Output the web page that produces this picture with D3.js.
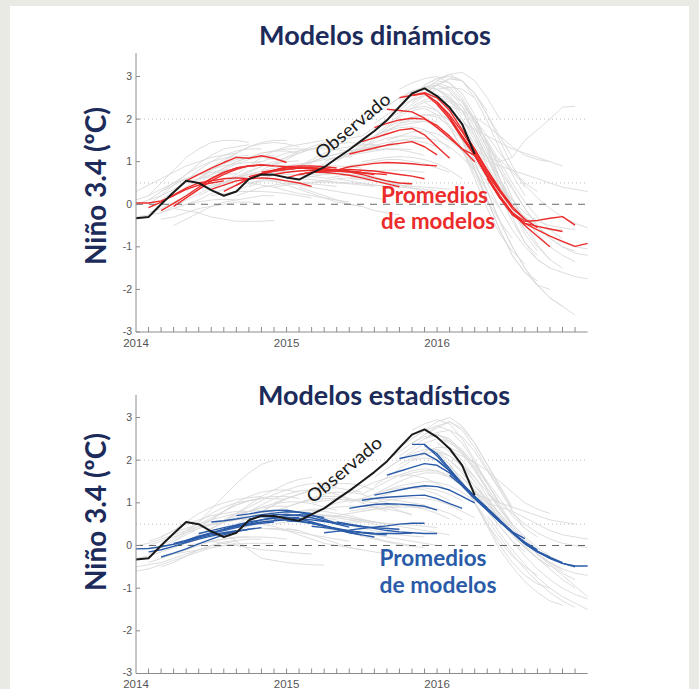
<!DOCTYPE html>
<html>
<head>
<meta charset="utf-8">
<script src="https://cdn.jsdelivr.net/npm/d3@7"></script>
<style>
  html, body { margin: 0; padding: 0; background: #e9eae4; }
  svg { display: block; }
</style>
</head>
<body>
<svg id="chart" width="699" height="689"></svg>
<script>
// Months are counted from January 2014 (0) to January 2017 (36).
const yearTicks = [0, 12, 24];
const yearLabels = ["2014", "2015", "2016"];
const valueTicks = [-3, -2, -1, 0, 1, 2, 3];
const referenceLevels = [2, 0.5];

// Observed Niño 3.4 anomaly (ºC), one value per month from Jan 2014.
const observed = [-0.33, -0.30, 0.0, 0.28, 0.55, 0.50, 0.33, 0.20, 0.30, 0.59,
  0.70, 0.69, 0.63, 0.58, 0.73, 0.87, 1.08, 1.28, 1.50, 1.72,
  1.97, 2.29, 2.60, 2.72, 2.54, 2.27, 1.88, 1.18];

// Dynamical models: individual forecasts [first month, values...]
const dynMembers = [
  [0, [0.1, 0.2, 0.35, 0.5, 0.6, 0.7, 0.75, 0.8, 0.8]],
  [0, [-0.3, -0.25, -0.2, -0.1, 0.0, 0.05, 0.1, 0.12, 0.1]],
  [0, [0.3, 0.45, 0.6, 0.75, 0.9, 1.0, 1.1, 1.15, 1.2]],
  [0, [0.0, 0.1, 0.2, 0.35, 0.5, 0.6, 0.65, 0.7, 0.72]],
  [1, [-0.2, -0.1, 0.05, 0.2, 0.35, 0.45, 0.5, 0.55, 0.55]],
  [1, [0.0, 0.2, 0.45, 0.7, 0.95, 1.15, 1.3, 1.35, 1.4]],
  [1, [0.1, 0.3, 0.5, 0.7, 0.88, 1.0, 1.08, 1.12, 1.15]],
  [1, [0.2, 0.5, 0.8, 1.1, 1.3, 1.45, 1.5, 1.5, 1.45]],
  [2, [-0.35, -0.3, -0.2, -0.1, -0.05, 0.0, 0.05, 0.05, 0.0]],
  [2, [0.1, 0.3, 0.55, 0.8, 1.0, 1.15, 1.25, 1.3, 1.3]],
  [2, [-0.2, -0.05, 0.1, 0.25, 0.4, 0.52, 0.6, 0.65, 0.68]],
  [2, [0.3, 0.45, 0.6, 0.72, 0.82, 0.9, 0.95, 0.98, 1.0]],
  [3, [-0.5, -0.35, -0.2, -0.05, 0.05, 0.1, 0.15, 0.2, 0.2]],
  [3, [0.2, 0.4, 0.6, 0.8, 0.95, 1.05, 1.1, 1.1, 1.05]],
  [3, [0.0, 0.2, 0.4, 0.6, 0.8, 0.95, 1.05, 1.12, 1.15]],
  [3, [-0.1, -0.15, -0.2, -0.3, -0.35, -0.4, -0.4, -0.4, -0.38]],
  [4, [0.3, 0.55, 0.8, 1.0, 1.2, 1.35, 1.45, 1.5, 1.5]],
  [4, [0.0, 0.1, 0.25, 0.35, 0.45, 0.5, 0.55, 0.55, 0.55]],
  [4, [0.5, 0.6, 0.7, 0.78, 0.85, 0.9, 0.92, 0.92, 0.9]],
  [5, [0.5, 0.7, 0.85, 1.0, 1.1, 1.2, 1.25, 1.25, 1.2]],
  [5, [0.2, 0.35, 0.5, 0.65, 0.78, 0.88, 0.95, 1.0, 1.02]],
  [5, [0.6, 0.85, 1.05, 1.2, 1.35, 1.42, 1.45, 1.42, 1.35]],
  [6, [0.4, 0.5, 0.6, 0.7, 0.78, 0.85, 0.9, 0.95, 0.95]],
  [6, [0.2, 0.25, 0.3, 0.3, 0.3, 0.28, 0.25, 0.2, 0.15]],
  [6, [0.7, 0.85, 1.0, 1.1, 1.2, 1.25, 1.3, 1.3, 1.28]],
  [7, [0.5, 0.7, 0.9, 1.1, 1.25, 1.35, 1.4, 1.45, 1.5]],
  [7, [0.2, 0.3, 0.45, 0.6, 0.7, 0.8, 0.85, 0.88, 0.9]],
  [7, [0.6, 0.65, 0.7, 0.72, 0.72, 0.7, 0.68, 0.65, 0.62]],
  [8, [0.2, 0.3, 0.4, 0.45, 0.5, 0.5, 0.48, 0.45, 0.42]],
  [8, [0.6, 0.75, 0.9, 1.0, 1.1, 1.2, 1.3, 1.35, 1.4]],
  [9, [0.5, 0.45, 0.4, 0.32, 0.25, 0.2, 0.15, 0.1, 0.05]],
  [9, [0.9, 1.0, 1.1, 1.2, 1.25, 1.3, 1.3, 1.28, 1.25]],
  [9, [0.4, 0.55, 0.7, 0.8, 0.9, 0.98, 1.05, 1.1, 1.12]],
  [10, [0.8, 0.95, 1.1, 1.25, 1.35, 1.45, 1.5, 1.55, 1.6]],
  [10, [0.6, 0.55, 0.45, 0.35, 0.25, 0.15, 0.05, 0.0, -0.05]],
  [10, [0.7, 0.75, 0.8, 0.85, 0.88, 0.9, 0.9, 0.88, 0.85]],
  [11, [0.7, 0.8, 0.9, 1.0, 1.1, 1.18, 1.25, 1.3, 1.3]],
  [11, [0.4, 0.45, 0.5, 0.52, 0.52, 0.5, 0.48, 0.45, 0.42]],
  [11, [0.9, 1.05, 1.2, 1.3, 1.38, 1.42, 1.45, 1.42, 1.38]],
  [12, [0.5, 0.45, 0.4, 0.35, 0.3, 0.25, 0.2, 0.15, 0.1]],
  [12, [0.7, 0.9, 1.05, 1.2, 1.3, 1.35, 1.4, 1.4, 1.35]],
  [12, [0.6, 0.6, 0.58, 0.55, 0.52, 0.5, 0.48, 0.45, 0.42]],
  [13, [0.6, 0.65, 0.7, 0.72, 0.7, 0.65, 0.6, 0.55, 0.5]],
  [13, [0.4, 0.3, 0.2, 0.1, 0.0, -0.05, -0.15, -0.2, -0.25]],
  [13, [0.9, 1.0, 1.1, 1.18, 1.25, 1.3, 1.35, 1.38, 1.4]],
  [14, [0.8, 0.95, 1.05, 1.15, 1.2, 1.25, 1.3, 1.3, 1.28]],
  [14, [0.5, 0.55, 0.6, 0.62, 0.62, 0.6, 0.55, 0.5, 0.45]],
  [14, [0.7, 0.72, 0.72, 0.7, 0.66, 0.6, 0.52, 0.45, 0.38]],
  [15, [0.7, 0.75, 0.75, 0.72, 0.65, 0.55, 0.45, 0.38, 0.3]],
  [15, [0.9, 1.05, 1.2, 1.35, 1.45, 1.55, 1.6, 1.6, 1.55]],
  [15, [0.6, 0.65, 0.7, 0.75, 0.78, 0.8, 0.8, 0.78, 0.75]],
  [15, [1.0, 1.1, 1.2, 1.25, 1.28, 1.3, 1.28, 1.22, 1.15]],
  [16, [0.6, 0.55, 0.5, 0.45, 0.42, 0.4, 0.38, 0.35, 0.32]],
  [16, [1.0, 1.2, 1.4, 1.6, 1.75, 1.85, 1.9, 1.95, 1.95]],
  [16, [1.1, 1.2, 1.3, 1.38, 1.45, 1.5, 1.5, 1.45, 1.35]],
  [17, [1.1, 1.3, 1.5, 1.7, 1.9, 2.0, 2.1, 2.1, 2.0]],
  [17, [0.9, 0.95, 1.0, 1.05, 1.05, 1.0, 0.95, 0.85, 0.75]],
  [17, [1.3, 1.45, 1.6, 1.72, 1.8, 1.82, 1.75, 1.55, 1.3]],
  [17, [0.6, 0.58, 0.55, 0.5, 0.45, 0.42, 0.4, 0.38, 0.35]],
  [18, [1.3, 1.55, 1.8, 2.05, 2.25, 2.4, 2.45, 2.4, 2.2]],
  [18, [1.0, 1.05, 1.1, 1.12, 1.1, 1.05, 0.95, 0.8, 0.6]],
  [18, [1.6, 1.8, 2.0, 2.15, 2.25, 2.3, 2.2, 1.95, 1.6]],
  [18, [1.9, 2.1, 2.3, 2.5, 2.65, 2.75, 2.7, 2.5, 2.1]],
  [19, [1.6, 1.85, 2.1, 2.35, 2.55, 2.7, 2.75, 2.7, 2.5]],
  [19, [1.3, 1.4, 1.5, 1.55, 1.55, 1.5, 1.35, 1.1, 0.8]],
  [19, [1.9, 2.1, 2.3, 2.45, 2.55, 2.5, 2.3, 1.9, 1.4]],
  [20, [2.0, 2.3, 2.55, 2.8, 2.95, 3.0, 2.9, 2.6, 2.2]],
  [20, [1.5, 1.6, 1.7, 1.72, 1.65, 1.5, 1.25, 0.9, 0.5]],
  [20, [2.3, 2.5, 2.65, 2.75, 2.7, 2.45, 2.0, 1.5, 1.0]],
  [20, [1.8, 1.95, 2.05, 2.1, 2.05, 1.85, 1.5, 1.05, 0.6]],
  [21, [2.2, 2.45, 2.7, 2.9, 3.05, 3.1, 2.9, 2.5, 2.0]],
  [21, [1.9, 1.95, 1.95, 1.85, 1.6, 1.25, 0.8, 0.3, -0.1]],
  [21, [2.4, 2.6, 2.75, 2.8, 2.65, 2.3, 1.8, 1.2, 0.6]],
  [21, [2.7, 2.85, 2.95, 3.0, 2.85, 2.5, 2.0, 1.45, 0.9]],
  [22, [2.4, 2.6, 2.8, 2.95, 2.9, 2.6, 2.1, 1.6, 1.1]],
  [22, [2.2, 2.25, 2.1, 1.8, 1.3, 0.7, 0.1, -0.4, -0.8]],
  [22, [2.6, 2.75, 2.85, 2.75, 2.45, 1.95, 1.3, 0.6, 0.0]],
  [22, [2.3, 2.45, 2.55, 2.5, 2.2, 1.7, 1.1, 0.5, 0.0]],
  [23, [2.6, 2.8, 2.95, 2.9, 2.6, 2.1, 1.5, 0.9, 0.4]],
  [23, [2.4, 2.2, 1.85, 1.3, 0.6, -0.1, -0.7, -1.1, -1.4]],
  [23, [2.7, 2.8, 2.7, 2.4, 1.9, 1.3, 0.6, -0.1, -0.6]],
  [23, [2.8, 2.95, 3.05, 2.9, 2.5, 1.95, 1.3, 0.7, 0.2]],
  [24, [2.5, 2.45, 2.3, 2.0, 1.6, 1.2, 0.8, 0.5, 0.3]],
  [24, [2.3, 2.0, 1.5, 0.8, 0.1, -0.6, -1.2, -1.6, -1.8]],
  [24, [2.7, 2.55, 2.2, 1.6, 0.9, 0.2, -0.4, -0.9, -1.2]],
  [24, [2.9, 2.85, 2.6, 2.1, 1.4, 0.6, -0.1, -0.7, -1.1]],
  [25, [2.3, 2.2, 2.05, 1.85, 1.6, 1.35, 1.15, 1.05, 1.0]],
  [25, [2.0, 1.5, 0.85, 0.1, -0.6, -1.2, -1.6, -1.9, -2.0]],
  [25, [2.5, 2.2, 1.7, 1.1, 0.4, -0.3, -0.9, -1.3, -1.5]],
  [25, [2.6, 2.4, 2.0, 1.45, 0.8, 0.15, -0.45, -0.95, -1.3]],
  [26, [1.8, 1.4, 0.9, 0.4, 0.0, -0.3, -0.5, -0.6, -0.6]],
  [26, [1.6, 1.0, 0.3, -0.4, -1.0, -1.5, -1.9, -2.2, -2.4]],
  [26, [2.0, 1.6, 1.1, 0.5, -0.1, -0.6, -1.0, -1.3, -1.5]],
  [26, [1.9, 1.75, 1.6, 1.45, 1.3, 1.2, 1.1, 1.0, 0.9]],
  [26, [2.2, 1.9, 1.5, 1.0, 0.5, 0.05, -0.3, -0.6, -0.8]],
  [27, [1.3, 1.1, 1.0, 1.1, 1.5, 1.75, 2.0, 2.28, 2.3]],
  [27, [1.0, 0.3, -0.4, -1.0, -1.5, -1.9, -2.2, -2.4, -2.6]],
  [27, [1.2, 0.8, 0.4, 0.1, -0.2, -0.4, -0.5, -0.55, -0.6]],
  [27, [1.5, 1.1, 0.6, 0.1, -0.35, -0.7, -1.0, -1.2, -1.35]],
  [27, [1.8, 1.4, 0.9, 0.4, -0.1, -0.5, -0.8, -1.0, -1.1]],
  [28, [0.8, 0.4, 0.0, -0.3, -0.55, -0.75, -0.9, -1.0, -1.05]],
  [28, [1.0, 0.9, 0.8, 0.7, 0.6, 0.5, 0.4, 0.35, 0.3]],
  [28, [0.5, -0.1, -0.6, -1.0, -1.3, -1.5, -1.6, -1.7, -1.75]],
  [28, [1.2, 0.8, 0.35, -0.1, -0.5, -0.8, -1.0, -1.15, -1.2]],
  [28, [1.3, 1.05, 0.75, 0.45, 0.15, -0.1, -0.3, -0.45, -0.55]]
];

// Dynamical models: multi-model average, one line per issue month
const dynMeans = [
  [0, [0.03, 0.03, 0.08, 0.2, 0.35, 0.45, 0.5, 0.55]],
  [1, [-0.08, 0.05, 0.22, 0.38, 0.5, 0.55, 0.6, 0.62, 0.6]],
  [2, [-0.15, 0.02, 0.2, 0.4, 0.6, 0.75, 0.85, 0.9, 0.92]],
  [3, [-0.05, 0.15, 0.35, 0.55, 0.7, 0.82, 0.9, 0.92, 0.9]],
  [4, [0.55, 0.7, 0.85, 0.98, 1.1, 1.08, 1.14, 1.08, 0.98]],
  [5, [0.45, 0.6, 0.75, 0.85, 0.9, 0.92, 0.9, 0.88, 0.85]],
  [6, [0.35, 0.45, 0.55, 0.6, 0.62, 0.6, 0.55, 0.5, 0.42]],
  [7, [0.3, 0.45, 0.6, 0.7, 0.78, 0.82, 0.85, 0.83, 0.8]],
  [8, [0.45, 0.6, 0.72, 0.8, 0.88, 0.9, 0.9, 0.88, 0.85]],
  [9, [0.65, 0.72, 0.78, 0.82, 0.85, 0.85, 0.83, 0.8, 0.78]],
  [10, [0.75, 0.8, 0.85, 0.87, 0.86, 0.84, 0.8, 0.78, 0.75]],
  [11, [0.7, 0.75, 0.78, 0.8, 0.8, 0.78, 0.76, 0.74, 0.7]],
  [12, [0.62, 0.7, 0.75, 0.78, 0.78, 0.76, 0.74, 0.72, 0.7]],
  [13, [0.7, 0.75, 0.75, 0.72, 0.68, 0.62, 0.55, 0.48, 0.41]],
  [14, [0.8, 0.82, 0.8, 0.76, 0.7, 0.62, 0.55, 0.5, 0.48]],
  [15, [0.78, 0.8, 0.82, 0.8, 0.78, 0.74, 0.7, 0.66, 0.6]],
  [16, [0.8, 0.88, 0.92, 0.96, 0.98, 0.97, 0.95, 0.92, 0.9]],
  [17, [1.18, 1.25, 1.32, 1.39, 1.43, 1.47, 1.35, 1.16]],
  [18, [1.47, 1.56, 1.65, 1.74, 1.78, 1.63, 1.35, 1.08]],
  [19, [1.8, 1.9, 1.98, 2.02, 2.0, 1.85, 1.6, 1.3, 1.0]],
  [20, [2.23, 2.2, 2.17, 2.02, 1.8, 1.55, 1.3, 1.15]],
  [21, [2.5, 2.56, 2.62, 2.5, 2.2, 1.75, 1.3, 0.8, 0.35]],
  [22, [2.55, 2.6, 2.35, 2.0, 1.55, 1.15, 0.7, 0.3, -0.05]],
  [23, [2.6, 2.4, 2.05, 1.6, 1.2, 0.75, 0.3, -0.1, -0.35]],
  [24, [2.4, 2.1, 1.7, 1.25, 0.8, 0.35, -0.05, -0.35, -0.55]],
  [25, [2.0, 1.6, 1.15, 0.65, 0.2, -0.2, -0.5, -0.75, -1.0]],
  [26, [1.6, 1.15, 0.65, 0.15, -0.25, -0.45, -0.52, -0.58, -0.64]],
  [27, [1.15, 0.65, 0.15, -0.2, -0.4, -0.38, -0.33, -0.29, -0.49]],
  [28, [0.6, 0.15, -0.2, -0.45, -0.6, -0.75, -0.87, -0.99, -0.92]]
];

// Statistical models: individual forecasts [first month, values...]
const statMembers = [
  [0, [-0.3, -0.25, -0.15, -0.05, 0.05, 0.15, 0.25, 0.3, 0.35]],
  [0, [0.0, 0.05, 0.15, 0.25, 0.35, 0.45, 0.5, 0.55, 0.6]],
  [0, [-0.5, -0.45, -0.4, -0.3, -0.2, -0.1, 0.0, 0.05, 0.1]],
  [0, [-0.6, -0.55, -0.45, -0.35, -0.25, -0.15, -0.05, 0.0, 0.05]],
  [1, [-0.4, -0.3, -0.2, -0.1, 0.0, 0.1, 0.15, 0.2, 0.2]],
  [1, [0.1, 0.2, 0.35, 0.5, 0.6, 0.7, 0.75, 0.8, 0.8]],
  [1, [-0.2, -0.05, 0.1, 0.25, 0.4, 0.5, 0.58, 0.62, 0.65]],
  [1, [0.0, 0.1, 0.2, 0.3, 0.4, 0.48, 0.55, 0.6, 0.62]],
  [2, [-0.5, -0.4, -0.25, -0.1, 0.0, 0.08, 0.12, 0.15, 0.15]],
  [2, [0.0, 0.15, 0.35, 0.55, 0.75, 0.9, 1.0, 1.05, 1.1]],
  [2, [0.2, 0.35, 0.55, 0.75, 0.9, 1.0, 1.08, 1.12, 1.15]],
  [3, [0.0, 0.1, 0.25, 0.4, 0.55, 0.65, 0.72, 0.78, 0.8]],
  [3, [-0.2, -0.15, -0.1, -0.05, 0.0, 0.03, 0.05, 0.05, 0.05]],
  [3, [0.1, 0.3, 0.55, 0.85, 1.15, 1.45, 1.7, 1.9, 2.0]],
  [3, [0.3, 0.4, 0.5, 0.6, 0.68, 0.75, 0.8, 0.82, 0.82]],
  [4, [0.3, 0.45, 0.6, 0.8, 0.95, 1.05, 1.1, 1.1, 1.08]],
  [4, [0.0, 0.05, 0.1, 0.15, 0.18, 0.2, 0.2, 0.18, 0.15]],
  [4, [0.1, 0.25, 0.4, 0.55, 0.7, 0.8, 0.88, 0.92, 0.92]],
  [5, [0.4, 0.6, 0.8, 1.0, 1.15, 1.25, 1.3, 1.3, 1.25]],
  [5, [0.2, 0.25, 0.3, 0.35, 0.38, 0.4, 0.4, 0.38, 0.35]],
  [5, [0.5, 0.65, 0.8, 0.95, 1.05, 1.12, 1.15, 1.15, 1.1]],
  [6, [0.1, 0.05, 0.0, -0.05, -0.1, -0.12, -0.15, -0.18, -0.2]],
  [6, [0.3, 0.38, 0.45, 0.52, 0.58, 0.62, 0.65, 0.65, 0.62]],
  [6, [0.4, 0.55, 0.75, 0.95, 1.15, 1.3, 1.45, 1.55, 1.6]],
  [7, [0.3, 0.35, 0.45, 0.55, 0.65, 0.75, 0.8, 0.85, 0.85]],
  [7, [0.3, 0.1, -0.1, -0.3, -0.35, -0.4, -0.43, -0.45, -0.46]],
  [7, [0.6, 0.75, 0.9, 1.05, 1.2, 1.3, 1.4, 1.45, 1.45]],
  [8, [0.5, 0.65, 0.8, 0.95, 1.1, 1.2, 1.3, 1.35, 1.4]],
  [8, [0.4, 0.5, 0.6, 0.68, 0.72, 0.72, 0.7, 0.65, 0.6]],
  [8, [0.7, 0.8, 0.9, 0.98, 1.02, 1.02, 0.98, 0.9, 0.82]],
  [9, [0.6, 0.7, 0.8, 0.9, 1.0, 1.05, 1.1, 1.1, 1.05]],
  [9, [0.4, 0.4, 0.38, 0.35, 0.3, 0.25, 0.2, 0.15, 0.1]],
  [9, [0.8, 0.95, 1.1, 1.2, 1.28, 1.3, 1.28, 1.2, 1.1]],
  [10, [0.8, 0.95, 1.1, 1.2, 1.3, 1.35, 1.35, 1.3, 1.25]],
  [10, [0.5, 0.45, 0.35, 0.25, 0.15, 0.05, 0.0, -0.05, -0.1]],
  [10, [0.6, 0.65, 0.7, 0.72, 0.72, 0.7, 0.65, 0.6, 0.55]],
  [11, [0.7, 0.75, 0.8, 0.82, 0.8, 0.75, 0.7, 0.62, 0.55]],
  [11, [1.0, 1.1, 1.2, 1.3, 1.4, 1.45, 1.45, 1.4, 1.3]],
  [11, [0.5, 0.55, 0.58, 0.6, 0.58, 0.55, 0.5, 0.45, 0.4]],
  [12, [0.9, 1.0, 1.1, 1.15, 1.15, 1.1, 1.0, 0.9, 0.8]],
  [12, [0.4, 0.35, 0.25, 0.15, 0.05, -0.05, -0.1, -0.15, -0.2]],
  [12, [0.6, 0.65, 0.68, 0.7, 0.68, 0.65, 0.6, 0.55, 0.5]],
  [13, [0.7, 0.72, 0.72, 0.7, 0.65, 0.58, 0.5, 0.42, 0.35]],
  [13, [1.0, 1.1, 1.2, 1.25, 1.25, 1.2, 1.1, 1.0, 0.9]],
  [14, [0.5, 0.45, 0.4, 0.32, 0.25, 0.18, 0.1, 0.05, 0.0]],
  [14, [0.8, 0.85, 0.9, 0.92, 0.92, 0.9, 0.85, 0.8, 0.72]],
  [14, [1.0, 1.05, 1.08, 1.08, 1.05, 1.0, 0.92, 0.82, 0.72]],
  [15, [0.6, 0.55, 0.48, 0.4, 0.35, 0.3, 0.25, 0.22, 0.2]],
  [15, [0.9, 1.0, 1.05, 1.1, 1.1, 1.08, 1.05, 1.0, 0.95]],
  [15, [0.4, 0.35, 0.3, 0.22, 0.15, 0.08, 0.02, -0.02, -0.05]],
  [16, [0.7, 0.75, 0.8, 0.85, 0.88, 0.9, 0.9, 0.88, 0.85]],
  [16, [0.4, 0.35, 0.3, 0.25, 0.2, 0.15, 0.1, 0.05, 0.0]],
  [16, [0.55, 0.55, 0.55, 0.55, 0.52, 0.5, 0.48, 0.45, 0.42]],
  [17, [1.0, 1.1, 1.2, 1.3, 1.35, 1.35, 1.3, 1.2, 1.05]],
  [17, [0.6, 0.6, 0.55, 0.5, 0.45, 0.4, 0.35, 0.3, 0.25]],
  [17, [0.8, 0.85, 0.9, 0.95, 0.95, 0.92, 0.85, 0.75, 0.62]],
  [17, [1.2, 1.35, 1.48, 1.58, 1.65, 1.65, 1.58, 1.45, 1.28]],
  [18, [1.2, 1.35, 1.5, 1.65, 1.75, 1.8, 1.75, 1.6, 1.4]],
  [18, [0.8, 0.85, 0.9, 0.95, 0.95, 0.92, 0.85, 0.75, 0.6]],
  [18, [1.0, 1.1, 1.2, 1.3, 1.35, 1.35, 1.3, 1.2, 1.05]],
  [19, [1.4, 1.6, 1.8, 2.0, 2.15, 2.2, 2.1, 1.9, 1.6]],
  [19, [1.0, 1.05, 1.1, 1.12, 1.1, 1.05, 0.95, 0.8, 0.65]],
  [19, [1.2, 1.35, 1.5, 1.62, 1.7, 1.7, 1.6, 1.4, 1.15]],
  [19, [1.6, 1.8, 2.0, 2.15, 2.25, 2.25, 2.1, 1.85, 1.5]],
  [20, [1.8, 2.0, 2.2, 2.4, 2.5, 2.45, 2.25, 1.9, 1.5]],
  [20, [1.3, 1.4, 1.45, 1.5, 1.48, 1.4, 1.25, 1.05, 0.85]],
  [20, [2.0, 2.2, 2.4, 2.55, 2.6, 2.5, 2.2, 1.8, 1.3]],
  [21, [2.1, 2.3, 2.5, 2.65, 2.7, 2.55, 2.2, 1.75, 1.3]],
  [21, [1.6, 1.7, 1.75, 1.75, 1.65, 1.45, 1.2, 0.9, 0.6]],
  [21, [2.3, 2.5, 2.7, 2.8, 2.7, 2.4, 1.95, 1.45, 1.0]],
  [21, [1.9, 2.05, 2.2, 2.3, 2.3, 2.15, 1.85, 1.45, 1.0]],
  [22, [2.4, 2.6, 2.8, 2.9, 2.75, 2.4, 1.9, 1.4, 0.9]],
  [22, [2.0, 2.05, 2.0, 1.85, 1.6, 1.25, 0.9, 0.55, 0.25]],
  [22, [2.5, 2.7, 2.9, 3.0, 2.8, 2.4, 1.9, 1.35, 0.85]],
  [22, [2.7, 2.85, 2.95, 2.85, 2.5, 2.0, 1.45, 0.95, 0.5]],
  [23, [2.6, 2.75, 2.9, 2.7, 2.3, 1.8, 1.3, 0.8, 0.4]],
  [23, [2.3, 2.2, 2.0, 1.7, 1.3, 0.85, 0.45, 0.1, -0.15]],
  [23, [2.5, 2.6, 2.5, 2.2, 1.8, 1.35, 0.9, 0.5, 0.2]],
  [24, [2.5, 2.4, 2.2, 1.9, 1.5, 1.1, 0.7, 0.4, 0.2]],
  [24, [2.2, 1.9, 1.5, 1.0, 0.5, 0.1, -0.25, -0.5, -0.7]],
  [24, [2.4, 2.2, 1.9, 1.5, 1.05, 0.6, 0.25, -0.05, -0.3]],
  [24, [2.6, 2.45, 2.15, 1.75, 1.3, 0.85, 0.45, 0.15, -0.1]],
  [25, [2.2, 2.1, 1.95, 1.75, 1.5, 1.25, 1.0, 0.85, 0.75]],
  [25, [1.9, 1.5, 1.0, 0.5, 0.0, -0.4, -0.7, -0.9, -1.0]],
  [25, [2.0, 1.75, 1.4, 1.0, 0.6, 0.25, -0.05, -0.3, -0.5]],
  [25, [2.3, 2.0, 1.6, 1.15, 0.7, 0.3, -0.05, -0.3, -0.5]],
  [26, [1.7, 1.4, 1.05, 0.7, 0.35, 0.05, -0.2, -0.4, -0.55]],
  [26, [1.5, 1.0, 0.45, -0.1, -0.5, -0.85, -1.1, -1.3, -1.4]],
  [26, [1.6, 1.3, 0.95, 0.6, 0.3, 0.05, -0.2, -0.4, -0.6]],
  [26, [1.9, 1.6, 1.25, 0.85, 0.5, 0.2, -0.05, -0.25, -0.4]],
  [27, [1.2, 1.1, 1.0, 0.9, 0.8, 0.7, 0.6, 0.55, 0.5]],
  [27, [1.0, 0.6, 0.2, -0.2, -0.55, -0.85, -1.1, -1.3, -1.45]],
  [27, [1.3, 1.0, 0.65, 0.3, 0.0, -0.3, -0.55, -0.8, -1.0]],
  [27, [1.4, 1.1, 0.75, 0.4, 0.1, -0.2, -0.45, -0.65, -0.8]],
  [28, [0.9, 0.6, 0.3, 0.05, -0.2, -0.4, -0.55, -0.65, -0.7]],
  [28, [0.7, 0.3, -0.1, -0.45, -0.75, -1.0, -1.2, -1.35, -1.5]],
  [28, [1.0, 0.9, 0.8, 0.65, 0.5, 0.35, 0.25, 0.2, 0.15]],
  [28, [1.1, 0.75, 0.4, 0.1, -0.2, -0.45, -0.7, -0.95, -1.2]],
  [28, [0.8, 0.45, 0.1, -0.25, -0.55, -0.8, -1.0, -1.15, -1.25]],
  [28, [1.2, 1.0, 0.75, 0.5, 0.3, 0.15, 0.05, 0.0, -0.05]]
];

// Statistical models: multi-model average, one line per issue month
const statMeans = [
  [0, [-0.08, -0.07, -0.03, 0.03, 0.1, 0.18, 0.25, 0.3, 0.35]],
  [1, [-0.15, -0.1, -0.02, 0.07, 0.15, 0.22, 0.28, 0.33, 0.38]],
  [2, [-0.27, -0.18, -0.08, 0.04, 0.15, 0.25, 0.33, 0.38, 0.42]],
  [3, [0.05, 0.12, 0.2, 0.28, 0.35, 0.42, 0.48, 0.52, 0.55]],
  [4, [0.12, 0.22, 0.3, 0.38, 0.45, 0.5, 0.55, 0.58, 0.6]],
  [5, [0.28, 0.35, 0.42, 0.48, 0.55, 0.6, 0.64, 0.66, 0.66]],
  [6, [0.55, 0.58, 0.62, 0.67, 0.72, 0.76, 0.79, 0.78, 0.75]],
  [7, [0.38, 0.45, 0.52, 0.6, 0.66, 0.7, 0.72, 0.7, 0.66]],
  [8, [0.7, 0.74, 0.79, 0.82, 0.83, 0.78, 0.71, 0.62, 0.52]],
  [9, [0.62, 0.68, 0.72, 0.73, 0.7, 0.65, 0.58, 0.5, 0.43]],
  [10, [0.67, 0.68, 0.66, 0.62, 0.55, 0.47, 0.38, 0.3, 0.25]],
  [11, [0.6, 0.6, 0.57, 0.52, 0.45, 0.38, 0.31, 0.25, 0.2]],
  [12, [0.58, 0.56, 0.52, 0.46, 0.4, 0.34, 0.3, 0.27, 0.25]],
  [13, [0.63, 0.6, 0.56, 0.52, 0.48, 0.44, 0.42, 0.4, 0.38]],
  [14, [0.45, 0.42, 0.38, 0.34, 0.31, 0.29, 0.28, 0.28, 0.29]],
  [15, [0.3, 0.33, 0.36, 0.4, 0.43, 0.46, 0.5, 0.52, 0.52]],
  [16, [0.55, 0.5, 0.45, 0.4, 0.35, 0.32, 0.3, 0.28, 0.28]],
  [17, [0.87, 0.92, 0.96, 0.98, 0.97, 0.95, 0.92, 0.83]],
  [18, [1.06, 1.1, 1.13, 1.15, 1.17, 1.18, 1.1, 0.98, 0.87]],
  [19, [1.18, 1.24, 1.3, 1.36, 1.4, 1.38, 1.3, 1.15, 1.0]],
  [20, [1.65, 1.74, 1.83, 1.92, 1.88, 1.7, 1.45, 1.15, 0.88]],
  [21, [2.04, 2.1, 2.16, 2.0, 1.75, 1.45, 1.15, 0.85, 0.6]],
  [22, [2.37, 2.37, 2.1, 1.75, 1.4, 1.1, 0.82, 0.55, 0.3]],
  [23, [2.35, 2.15, 1.8, 1.45, 1.12, 0.85, 0.55, 0.32, 0.16]],
  [24, [2.0, 1.75, 1.45, 1.12, 0.85, 0.58, 0.3, 0.08, -0.1]],
  [25, [1.65, 1.4, 1.1, 0.85, 0.58, 0.3, 0.05, -0.13, -0.27]],
  [26, [1.4, 1.1, 0.85, 0.58, 0.3, 0.04, -0.15, -0.28, -0.4]],
  [27, [1.15, 0.88, 0.6, 0.32, 0.06, -0.14, -0.3, -0.42, -0.5]],
  [28, [0.85, 0.58, 0.3, 0.05, -0.15, -0.3, -0.42, -0.48, -0.48]]
];

const navy = "#1c2b5a";
const panels = [
  { title: "Modelos dinámicos", titleY: 45, titleX: 375, titleW: 232,
    yBottom: 332, yTop3: 76.5, axisTopValue: 3.55, labelY: 186,
    members: dynMembers, means: dynMeans, color: "#ec2b2b",
    obsLabel: [321.5, 160.5], promedios: [381, 203, 228.5], promW: [107, 114] },
  { title: "Modelos estadísticos", titleY: 405, titleX: 384, titleW: 252,
    yBottom: 673.5, yTop3: 417.5, axisTopValue: 3.53, labelY: 512,
    members: statMembers, means: statMeans, color: "#2a5ba8",
    obsLabel: [313, 504], promedios: [379.5, 566, 592.5], promW: [107, 117] }
];

const svg = d3.select("#chart");
svg.append("rect").attr("x", 10).attr("y", 6).attr("width", 679).attr("height", 683)
  .attr("fill", "#ffffff");

const x = d3.scaleLinear().domain([0, 36]).range([136, 587.6]);

function seriesPoints(start, values) {
  return values.map((v, i) => [start + i, v]);
}

panels.forEach(p => {
  const g = svg.append("g");
  const y = d3.scaleLinear().domain([-3, 3]).range([p.yBottom, p.yTop3]);
  const line = d3.line().x(d => x(d[0])).y(d => y(d[1]));

  // dotted reference levels
  g.selectAll(".ref").data(referenceLevels).join("line")
    .attr("x1", x(0)).attr("x2", x(36))
    .attr("y1", d => y(d)).attr("y2", d => y(d))
    .attr("stroke", "#aaaaaa").attr("stroke-width", 0.8)
    .attr("stroke-dasharray", "1,3");

  // individual model forecasts
  g.append("g").selectAll("path").data(p.members).join("path")
    .attr("d", d => line(seriesPoints(d[0], d[1])))
    .attr("fill", "none").attr("stroke", "#d9d9d9").attr("stroke-width", 0.9);

  // zero line
  g.append("line")
    .attr("x1", x(0)).attr("x2", x(36)).attr("y1", y(0)).attr("y2", y(0))
    .attr("stroke", "#555").attr("stroke-width", 0.9).attr("stroke-dasharray", "7,6");

  // model averages
  g.append("g").selectAll("path").data(p.means).join("path")
    .attr("d", d => line(seriesPoints(d[0], d[1])))
    .attr("fill", "none").attr("stroke", p.color).attr("stroke-width", 1.4)
    .attr("stroke-linejoin", "round");

  // observations
  g.append("path")
    .attr("d", line(seriesPoints(0, observed)))
    .attr("fill", "none").attr("stroke", "#1a1a1a").attr("stroke-width", 2)
    .attr("stroke-linejoin", "round");

  // axes
  const axisColor = "#8c8c8c";
  g.append("line").attr("x1", x(0)).attr("x2", x(0))
    .attr("y1", y(-3)).attr("y2", y(p.axisTopValue))
    .attr("stroke", axisColor).attr("stroke-width", 1);
  g.append("line").attr("x1", x(0)).attr("x2", x(36))
    .attr("y1", y(-3)).attr("y2", y(-3))
    .attr("stroke", axisColor).attr("stroke-width", 1);
  g.selectAll(".ytick").data(valueTicks).join("line")
    .attr("x1", x(0)).attr("x2", x(0) + 4)
    .attr("y1", d => y(d)).attr("y2", d => y(d))
    .attr("stroke", axisColor);
  g.selectAll(".ylab").data(valueTicks).join("text")
    .attr("x", x(0) - 4).attr("y", d => y(d) - (d === -3 ? 1 : 0)).attr("dy", "0.34em")
    .attr("text-anchor", "end")
    .attr("font-family", "'Liberation Sans', Arial, sans-serif")
    .attr("font-size", 10.5).attr("fill", "#555")
    .text(d => d);
  g.selectAll(".xtick").data(d3.range(1, 36)).join("line")
    .attr("x1", d => x(d)).attr("x2", d => x(d))
    .attr("y1", y(-3)).attr("y2", y(-3) - 5)
    .attr("stroke", axisColor);
  g.selectAll(".xlab").data(yearTicks).join("text")
    .attr("x", d => x(d)).attr("y", y(-3) + 14.5)
    .attr("text-anchor", "middle")
    .attr("font-family", "'Liberation Sans', Arial, sans-serif")
    .attr("font-size", 11.5).attr("fill", "#555")
    .text((d, i) => yearLabels[i]);

  // panel title
  g.append("text").attr("x", p.titleX).attr("y", p.titleY)
    .attr("text-anchor", "middle")
    .attr("font-family", "Lato, 'Open Sans', sans-serif").attr("font-weight", 700)
    .attr("font-size", 27).attr("fill", navy)
    .attr("textLength", p.titleW).attr("lengthAdjust", "spacingAndGlyphs")
    .text(p.title);

  // vertical axis title
  g.append("text")
    .attr("transform", `translate(106,${p.labelY}) rotate(-90)`)
    .attr("text-anchor", "middle")
    .attr("font-family", "Lato, 'Open Sans', sans-serif").attr("font-weight", 700)
    .attr("font-size", 29).attr("fill", navy)
    .attr("textLength", 158).attr("lengthAdjust", "spacingAndGlyphs")
    .text("Niño 3.4 (ºC)");

  // label along the observed curve
  g.append("text")
    .attr("transform", `translate(${p.obsLabel[0]},${p.obsLabel[1]}) rotate(-40)`)
    .attr("font-family", "Lato, 'Open Sans', sans-serif")
    .attr("font-size", 18).attr("fill", "#1a1a1a")
    .attr("textLength", 92).attr("lengthAdjust", "spacingAndGlyphs")
    .text("Observado");

  // label for the averages
  const lab = g.append("g")
    .attr("font-family", "Lato, 'Open Sans', sans-serif").attr("font-weight", 700)
    .attr("font-size", 22).attr("fill", p.color);
  lab.append("text").attr("x", p.promedios[0]).attr("y", p.promedios[1])
    .attr("textLength", p.promW[0]).attr("lengthAdjust", "spacingAndGlyphs")
    .text("Promedios");
  lab.append("text").attr("x", p.promedios[0]).attr("y", p.promedios[2])
    .attr("textLength", p.promW[1]).attr("lengthAdjust", "spacingAndGlyphs")
    .text("de modelos");
});
</script>
</body>
</html>
